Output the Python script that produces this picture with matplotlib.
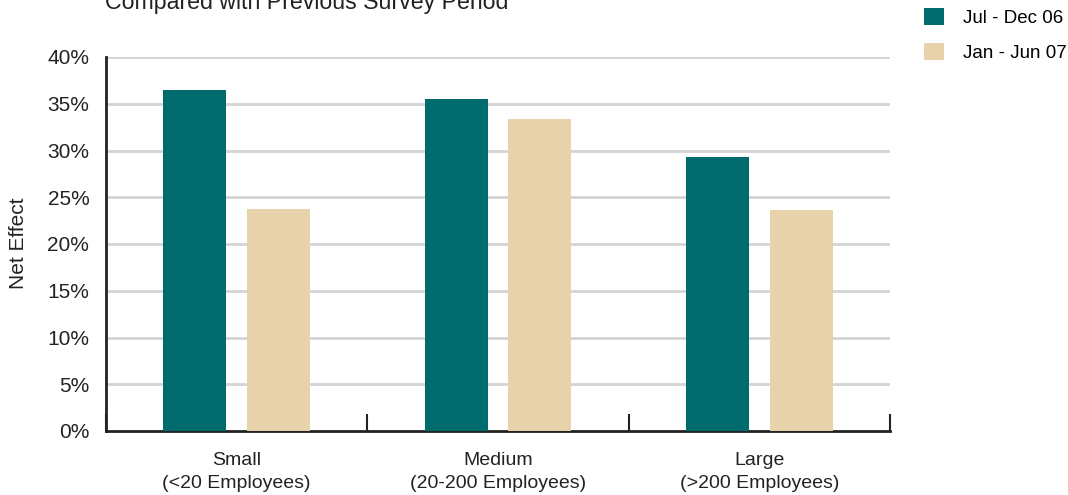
import matplotlib
matplotlib.use("Agg")
import matplotlib.pyplot as plt
import numpy as np

categories = ["Small\n(<20 Employees)", "Medium\n(20-200 Employees)", "Large\n(>200 Employees)"]
series_names = ["Jul - Dec 06", "Jan - Jun 07"]
jul_dec_06 = [36.5, 35.5, 29.3]
jan_jun_07 = [23.7, 33.4, 23.6]
y_ticks = [0, 5, 10, 15, 20, 25, 30, 35, 40]
y_tick_labels = ["0%", "5%", "10%", "15%", "20%", "25%", "30%", "35%", "40%"]

teal = "#006b6c"
tan = "#e8d2ac"

plt.rcParams['font.family'] = ['Liberation Sans', 'DejaVu Sans']

fig = plt.figure(figsize=(10.68, 4.95), dpi=100)
ax = fig.add_axes([106/1068, 1-431/495, (890-106)/1068, (431-57)/495])

x = np.arange(len(categories))
w = 0.24
off = 0.16
b1 = ax.bar(x - off, jul_dec_06, width=w, color=teal, zorder=3, label=series_names[0])
b2 = ax.bar(x + off, jan_jun_07, width=w, color=tan, zorder=3, label=series_names[1])

ax.set_xlim(-0.5, 2.5)
ax.set_ylim(0, 40)
ax.set_yticks(y_ticks)
ax.set_yticklabels(y_tick_labels, fontsize=15, color="#222222")
ax.tick_params(axis='y', length=0, pad=12)
for t in y_ticks[1:]:
    ax.axhline(t, color="#d4d4d4", lw=2, zorder=1)

ax.set_xticks(x)
ax.set_xticklabels(categories, fontsize=14, color="#222222", linespacing=1.45)
ax.tick_params(axis='x', length=0, pad=15)
# boundary ticks
ax.set_xticks([-0.5, 0.5, 1.5, 2.5], minor=True)
ax.tick_params(axis='x', which='minor', direction='in', length=12, width=1.5, color="#222222")

for s in ["top", "right"]:
    ax.spines[s].set_visible(False)
for s in ["left", "bottom"]:
    ax.spines[s].set_linewidth(2)
    ax.spines[s].set_color("#222222")

fig.text(19/1068, 1-243/495, "Net Effect", rotation=90, ha='center', va='center', fontsize=15, color="#222222")

fig.text(105/1068, 1-2/495, "Compared with Previous Survey Period", ha='left', va='center', fontsize=16.7, color="#222222")

fig.legend(handles=[b1, b2], labels=series_names, loc='upper left',
           bbox_to_anchor=(920/1068, 1-4/495), frameon=False, fontsize=13.5,
           handlelength=1.07, handleheight=1.05, handletextpad=1.0, labelspacing=0.85,
           borderpad=0.2, borderaxespad=0)

fig.savefig("out.png", dpi=100)
